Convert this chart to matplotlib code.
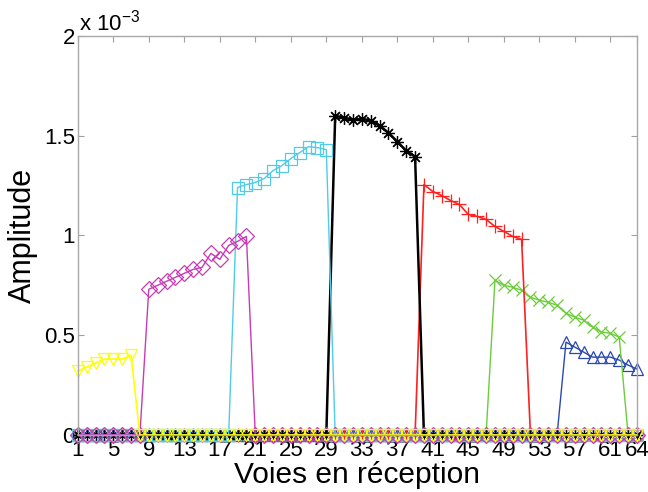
import numpy as np
import matplotlib
matplotlib.use("Agg")
import matplotlib.pyplot as plt

plt.rcParams['font.family'] = ['Liberation Sans', 'DejaVu Sans']
plt.rcParams['mathtext.fontset'] = 'custom'
plt.rcParams['mathtext.rm'] = 'Liberation Sans'
plt.rcParams['mathtext.it'] = 'Liberation Sans'

N_CHANNELS = 64

# amplitude values (x 10^-3) on the channels where each group is non zero
yellow_start = 1
yellow_vals = [0.32, 0.34, 0.36, 0.38, 0.38, 0.38, 0.40]
magenta_start = 9
magenta_vals = [0.73, 0.75, 0.77, 0.79, 0.81, 0.83, 0.84, 0.91, 0.88, 0.95, 0.97, 0.995]
cyan_start = 19
cyan_vals = [1.24, 1.255, 1.265, 1.285, 1.325, 1.35, 1.385, 1.415, 1.445, 1.44, 1.43]
black_start = 30
black_vals = [1.60, 1.59, 1.58, 1.585, 1.575, 1.55, 1.515, 1.47, 1.425, 1.395]
red_start = 40
red_vals = [1.255, 1.22, 1.20, 1.175, 1.155, 1.105, 1.095, 1.08, 1.045, 1.02, 0.995, 0.98]
green_start = 48
green_vals = [0.775, 0.75, 0.74, 0.725, 0.69, 0.675, 0.665, 0.65, 0.61, 0.59, 0.575, 0.54,
              0.515, 0.51, 0.49]
blue_start = 56
blue_vals = [0.465, 0.44, 0.415, 0.39, 0.39, 0.39, 0.375, 0.35, 0.33]

channels = np.arange(1, N_CHANNELS + 1)
xticks = [1, 5, 9, 13, 17, 21, 25, 29, 33, 37, 41, 45, 49, 53, 57, 61, 64]
yticks = [0, 0.5, 1, 1.5, 2]
ytick_labels = ['0', '0.5', '1', '1.5', '2']


def full_row(start, vals):
    row = np.zeros(N_CHANNELS)
    row[start - 1:start - 1 + len(vals)] = vals
    return row


series = [
    (blue_start, blue_vals, '#2a48b0', '^', 9, 1.0),
    (green_start, green_vals, '#6ccc3c', 'x', 8, 1.0),
    (red_start, red_vals, '#ff2020', '+', 10, 1.2),
    (black_start, black_vals, '#000000', (8, 2, 0), 9, 1.8),
    (cyan_start, cyan_vals, '#50cce8', 's', 8, 1.0),
    (magenta_start, magenta_vals, '#c63cb4', 'D', 8, 1.0),
    (yellow_start, yellow_vals, '#ffff00', 'v', 9, 1.2),
]

fig = plt.figure(figsize=(6.48, 4.92), dpi=100)
ax = fig.add_axes([0.120, 0.116, 0.863, 0.811])

for start, vals, color, marker, ms, lw in series:
    ax.plot(channels, full_row(start, vals), color=color, marker=marker,
            markersize=ms, markerfacecolor='none', markeredgecolor=color,
            markeredgewidth=0.9, linewidth=lw, clip_on=False)

ax.set_xlim(1, 64)
ax.set_ylim(0, 2)
ax.set_xticks(xticks)
ax.set_yticks(yticks)
ax.set_yticklabels(ytick_labels)
ax.tick_params(direction='in', length=4, color='#a0a0a0', labelsize=16,
               top=True, right=True, pad=2)
ax.tick_params(axis='x', pad=4)
for sp in ax.spines.values():
    sp.set_color('#a8a8a8')
    sp.set_linewidth(1.0)

ax.set_xlabel('Voies en réception', fontsize=21.5, labelpad=0)
ax.set_ylabel('Amplitude', fontsize=22, labelpad=4)
ax.text(0.003, 1.0, r'x 10$^{-3}$', transform=ax.transAxes, ha='left', va='bottom',
        fontsize=16)

fig.savefig('out.png', dpi=100)
